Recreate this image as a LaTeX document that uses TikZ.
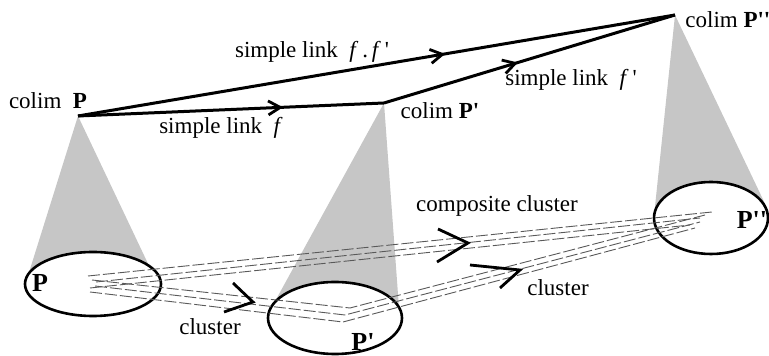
\documentclass[tikz,border=0pt]{standalone}
\usepackage{fontspec}
\setmainfont{Liberation Serif}
\usepackage{tikz}
\usetikzlibrary{shapes.geometric}
\usetikzlibrary{decorations.markings}
\usetikzlibrary{arrows.meta}

\newcommand{\pr}{\textquotesingle}

\tikzset{
  cone/.style={fill=gray!45, draw=none},
  blob/.style={ellipse, draw, line width=1.3pt, fill=white, inner sep=0pt},
  link/.style={line width=1.5pt, line join=bevel},
  clu/.style={draw=gray!70!black, line width=0.45pt, dash pattern=on 6pt off 1.5pt},
  chev/.style={line width=1.4pt, line join=miter},
  lbl/.style={font=\fontsize{11.5}{13}\selectfont, inner sep=0pt},
  big/.style={font=\fontsize{13}{15}\selectfont\bfseries, inner sep=0pt},
  barb/.style={postaction={decorate}, decoration={markings,
    mark=at position #1 with {\arrow{Straight Barb[length=6pt, width=7pt, line width=1.4pt]}}}}
}

\begin{document}
\begin{tikzpicture}[x=0.5pt, y=-0.5pt]
\useasboundingbox (0,0) rectangle (769,356);
% -- apexes of the colimits --
\coordinate (cP) at (78,116);
\coordinate (cP1) at (384,103);
\coordinate (cP2) at (675,15);
% -- cones --
\fill[cone] (cP) -- (26,282) -- (151,270) -- cycle;
\fill[cone] (cP1) -- (273,305) -- (399,308) -- cycle;
\fill[cone] (cP2) -- (654,216) -- (768,210) -- cycle;
% -- patterns --
\node[blob, minimum width=68pt, minimum height=32pt] (eP) at (93,284) {};
\node[blob, minimum width=67pt, minimum height=36pt] (eP1) at (335,318) {};
\node[blob, minimum width=57pt, minimum height=36pt] (eP2) at (711,218) {};
\node[big] (lP) at (40,283) {P};
\node[big] (lP1) at (363,342) {P\pr};
\node[big] (lP2) at (752,220) {P\pr\pr};
% -- ends of the cluster lines --
\coordinate (a1) at (88,276);
\coordinate (a2) at (96,282);
\coordinate (a3) at (90,288);
\coordinate (a4) at (92,280);
\coordinate (a5) at (95,286);
\coordinate (a6) at (90,292);
\coordinate (m1) at (350,308);
\coordinate (m2) at (345,315);
\coordinate (m3) at (343,322);
\coordinate (b1) at (712,212);
\coordinate (b2) at (700,218);
\coordinate (b3) at (690,225);
\coordinate (b4) at (705,215);
\coordinate (b5) at (700,222);
\coordinate (b6) at (695,228);
% -- composite cluster --
\draw[clu] (a1) -- (b1);
\draw[clu] (a2) -- (b2);
\draw[clu] (a3) -- (b3);
% -- cluster through P' --
\draw[clu] (a4) -- (m1) -- (b4);
\draw[clu] (a5) -- (m2) -- (b5);
\draw[clu] (a6) -- (m3) -- (b6);
% -- chevrons --
\draw[chev] (233,283) -- (253,302) -- (224,312);
\draw[chev] (438,229) -- (468,243) -- (437,262);
\draw[chev] (470,265) -- (520,270) -- (500,288);
% -- simple links --
\draw[link, barb=0.67] (cP) -- (cP1);
\draw[link, barb=0.615] (cP) -- (cP2);
\draw[link, barb=0.46] (cP1) -- (cP2);
% -- labels --
\node[lbl] (tP) at (48,101) {colim \ \textbf{P}};
\node[lbl] (tP1) at (440,111) {colim \textbf{P\pr}};
\node[lbl, anchor=west] (tP2) at (685,20) {colim \textbf{P\pr\pr}};
\node[lbl] (tf) at (221,128) {simple link \ \textit{f}};
\node[lbl] (tff) at (312,52) {simple link \ \textit{f}\,.\,\textit{f}\,\pr};
\node[lbl] (tf1) at (571,80) {simple link \ \textit{f}\,\pr};
\node[lbl] (tcc) at (497,206) {composite cluster};
\node[lbl] (tc) at (210,327) {cluster};
\node[lbl] (tc1) at (558,288) {cluster};
\end{tikzpicture}
\end{document}
